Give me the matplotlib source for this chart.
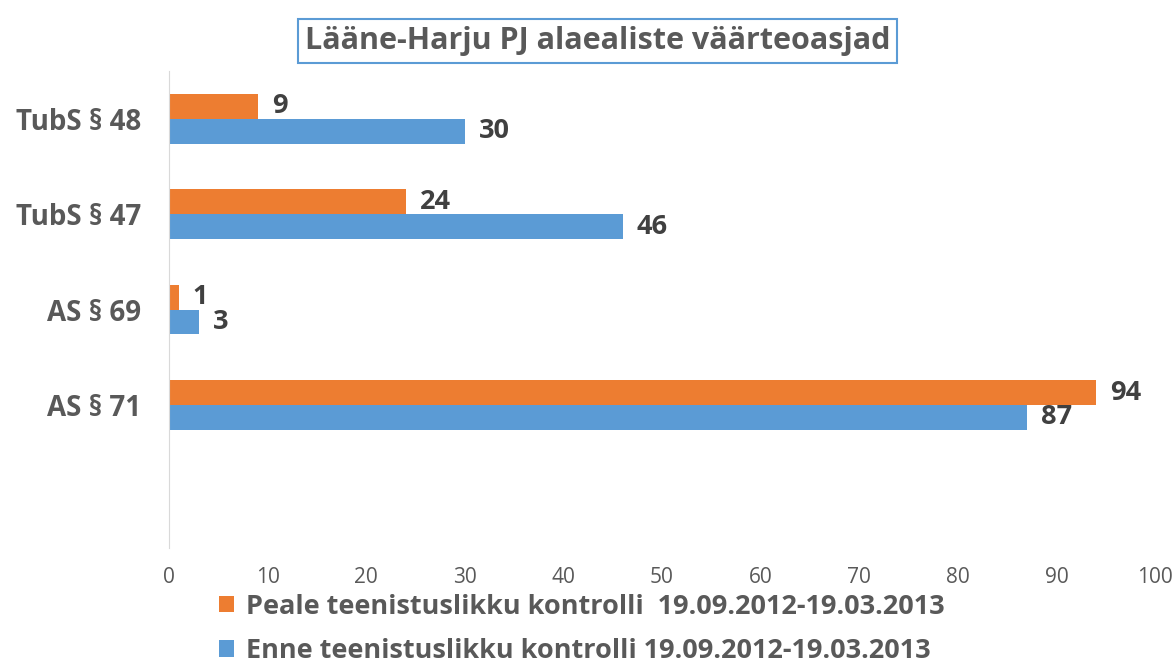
import numpy as np
import matplotlib.pyplot as plt

# Data, top to bottom (last slot is empty in the original)
categories = ["TubS § 48", "TubS § 47", "AS § 69", "AS § 71", ""]
peale = [9, 24, 1, 94]
enne = [30, 46, 3, 87]
peale_label = "Peale teenistuslikku kontrolli  19.09.2012-19.03.2013"
enne_label = "Enne teenistuslikku kontrolli 19.09.2012-19.03.2013"
title = "Lääne-Harju PJ alaealiste väärteoasjad"

orange = "#ed7d31"
blue = "#5b9bd5"
txt = "#595959"
font = "Open Sans"

fig = plt.figure(figsize=(11.72, 6.68), dpi=100)
ax = fig.add_axes([0.1442, 0.1796, 0.8413, 0.714])

n = len(categories)
ypos = np.arange(n)[::-1]  # top category at highest y
h = 0.26
b1 = ax.barh(ypos[:len(peale)] + h / 2, peale, height=h, color=orange, label=peale_label)
b2 = ax.barh(ypos[:len(enne)] - h / 2, enne, height=h, color=blue, label=enne_label)

for bars in (b1, b2):
    ax.bar_label(bars, padding=10, fontsize=19.5, fontweight="bold",
                 color="#404040", family=font)

ax.set_xlim(0, 100)
ax.set_ylim(-0.5, n - 0.5)
ax.set_xticks(np.arange(0, 101, 10))
ax.set_yticks(ypos)
ax.set_yticklabels(categories, fontsize=20, fontweight="bold", color=txt, family=font)
for lbl in ax.get_xticklabels():
    lbl.set_fontsize(15)
    lbl.set_color(txt)
    lbl.set_family(font)
ax.tick_params(axis="x", length=0, pad=14)
ax.tick_params(axis="y", length=0, pad=20)

for s in ("top", "right", "bottom"):
    ax.spines[s].set_visible(False)
ax.spines["left"].set_color("#d9d9d9")

fig.text(0.51, 0.9386, title, ha="center", va="center", fontsize=22,
         fontweight="bold", color=txt, family=font,
         bbox=dict(facecolor="white", edgecolor=blue, linewidth=1.5,
                   boxstyle="square,pad=0.22"))

leg = fig.legend(handles=[b1, b2], loc="upper left", bbox_to_anchor=(0.166, 0.148),
                 frameon=False, handlelength=0.55, handleheight=0.55,
                 handletextpad=0.45, labelspacing=0.68,
                 prop=dict(family=font, size=19.5, weight="bold"))
for t in leg.get_texts():
    t.set_color(txt)

fig.savefig("out.png", dpi=100)
